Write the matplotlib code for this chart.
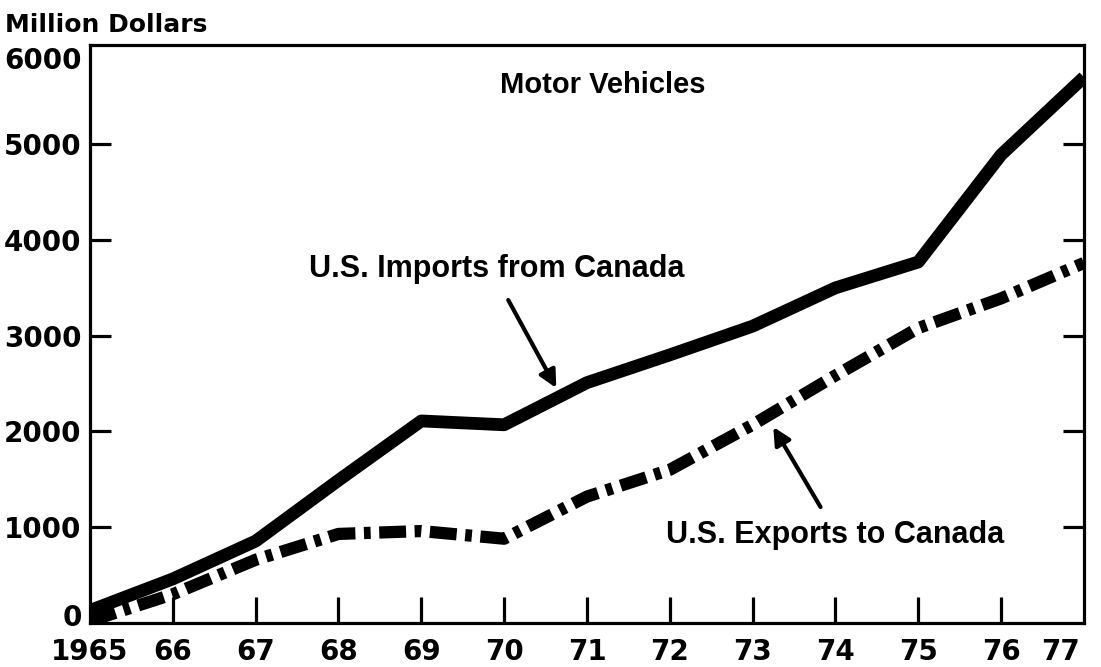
import matplotlib
matplotlib.use("Agg")
import matplotlib.pyplot as plt
from matplotlib.transforms import ScaledTranslation

# data (million dollars)
years = [1965, 1966, 1967, 1968, 1969, 1970, 1971, 1972, 1973, 1974, 1975, 1976, 1977]
year_labels = ["1965", "66", "67", "68", "69", "70", "71", "72", "73", "74", "75", "76", "77"]
imports_from_canada = [130, 460, 855, 1490, 2110, 2070, 2510, 2800, 3100, 3500, 3770, 4890, 5700]
exports_to_canada = [20, 300, 660, 930, 960, 880, 1320, 1600, 2070, 2585, 3080, 3390, 3760]
y_ticks = [0, 1000, 2000, 3000, 4000, 5000, 6000]

LABEL_FONT = ["Liberation Sans", "DejaVu Sans"]
TICK_FONT = ["DejaVu Sans"]

fig = plt.figure(figsize=(11.01, 6.67), dpi=100)
ax = fig.add_axes([0.0817, 0.066, 0.9028, 0.8666])

ax.plot(years, imports_from_canada, color="black", lw=9.2,
        solid_joinstyle="round", solid_capstyle="butt")
ax.plot(years, exports_to_canada, color="black", lw=8.8,
        dashes=(2.2, 0.7, 0.55, 0.7), dash_capstyle="butt", dash_joinstyle="round")

ax.set_xlim(1965, 1977)
ax.set_ylim(0, 6037)

for sp in ax.spines.values():
    sp.set_linewidth(2.3)

# x ticks: marks pointing in, labels below
ax.set_xticks(years)
ax.set_xticklabels(year_labels, fontfamily=TICK_FONT, fontweight="bold", fontsize=20)
ax.tick_params(axis="x", direction="in", length=19, width=2.3, pad=11,
               bottom=True, top=False)
# y ticks on both sides, labels only on the left
ax.set_yticks(y_ticks)
ax.set_yticklabels([str(v) for v in y_ticks], fontfamily=TICK_FONT,
                   fontweight="bold", fontsize=20)
ax.tick_params(axis="y", direction="in", length=15, width=2.3, pad=6,
               left=True, right=True, labelright=False)

xt = ax.xaxis.get_major_ticks()
xt[0].tick1line.set_visible(False)
xt[-1].tick1line.set_visible(False)
yt = ax.yaxis.get_major_ticks()
for t in (yt[0], yt[-1]):
    t.tick1line.set_visible(False)
    t.tick2line.set_visible(False)

# small nudges of a few labels as in the original
def nudge(label, dx, dy):
    label.set_transform(label.get_transform()
                        + ScaledTranslation(dx / 100, dy / 100, fig.dpi_scale_trans))

nudge(ax.get_xticklabels()[-1], -23, 0)
nudge(ax.get_yticklabels()[-1], 0, -10)
nudge(ax.get_yticklabels()[0], 0, 8)

fig.text(5 / 1101, 1 - 32 / 667, "Million Dollars", family=TICK_FONT,
         fontweight="bold", fontsize=18, ha="left", va="baseline")
fig.text(0.5477, 1 - 93 / 667, "Motor Vehicles", family=LABEL_FONT,
         fontweight="bold", fontsize=21, ha="center", va="baseline")
fig.text(0.4514, 1 - 277 / 667, "U.S. Imports from Canada", family=LABEL_FONT,
         fontweight="bold", fontsize=22, ha="center", va="baseline")
fig.text(0.7584, 1 - 543 / 667, "U.S. Exports to Canada", family=LABEL_FONT,
         fontweight="bold", fontsize=22, ha="center", va="baseline")

arrow = dict(arrowstyle="-|>", lw=3, color="black", mutation_scale=26,
             shrinkA=0, shrinkB=0)
ax.annotate("", xy=(1970.63, 2454), xytext=(1970.05, 3373), arrowprops=arrow)
ax.annotate("", xy=(1973.25, 2047), xytext=(1973.82, 1211), arrowprops=arrow)

fig.savefig("out.png", dpi=100, facecolor="white")
